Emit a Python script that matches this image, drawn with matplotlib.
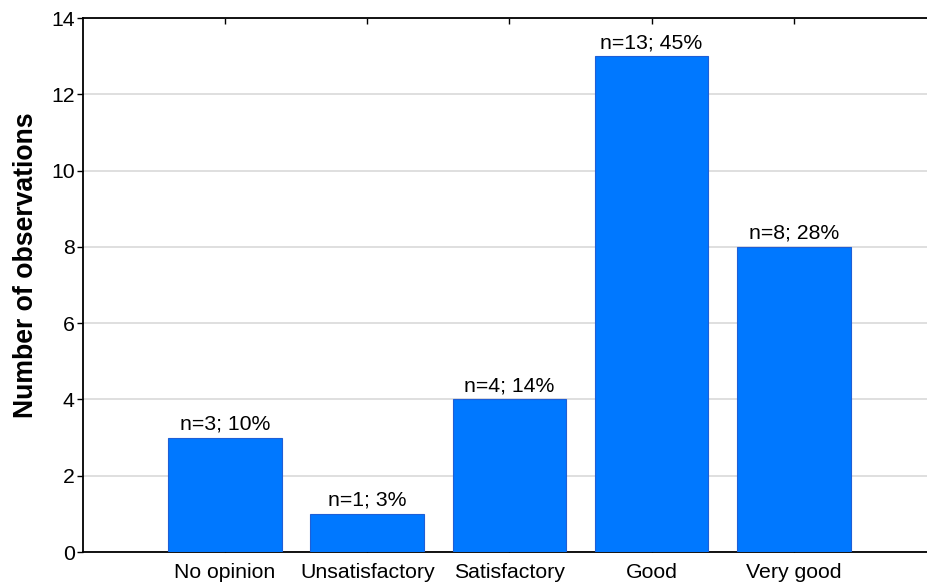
import matplotlib.pyplot as plt

categories = ['No opinion', 'Unsatisfactory', 'Satisfactory', 'Good', 'Very good']
counts = [3, 1, 4, 13, 8]
percents = [10, 3, 14, 45, 28]

plt.rcParams['font.family'] = ['Liberation Sans', 'DejaVu Sans']

fig = plt.figure(figsize=(9.27, 5.82), dpi=100)
ax = fig.add_axes([0.0895, 0.0515, 0.920, 0.9175])

x = list(range(len(categories)))
ax.bar(x, counts, width=0.8, color='#0078ff', edgecolor='#1f5fd6', linewidth=0.8, zorder=3)

for xi, n, p in zip(x, counts, percents):
    ax.annotate(f'n={n}; {p}%', (xi, n), xytext=(0, 3), textcoords='offset points',
                ha='center', va='bottom', fontsize=15.3)

ax.set_xlim(-1, 5)
ax.set_ylim(0, 14)
ax.set_yticks(range(0, 15, 2))
ax.set_xticks(x)
ax.set_xticklabels(categories)
ax.tick_params(axis='x', direction='in', top=True, labelsize=15.3, length=4, width=1, pad=8)
ax.tick_params(axis='y', direction='out', labelsize=15.3, length=4, width=1, pad=2)
ax.yaxis.grid(True, color='#d9d9d9', linewidth=1.2, zorder=0)
ax.set_axisbelow(True)
for s in ['left', 'bottom', 'top']:
    ax.spines[s].set_linewidth(1.3)
ax.spines['right'].set_visible(False)

ax.set_ylabel('Number of observations', fontsize=19.2, fontweight='bold')
ax.yaxis.set_label_coords(-0.052, 0.538)

fig.savefig('out.png', dpi=100)
